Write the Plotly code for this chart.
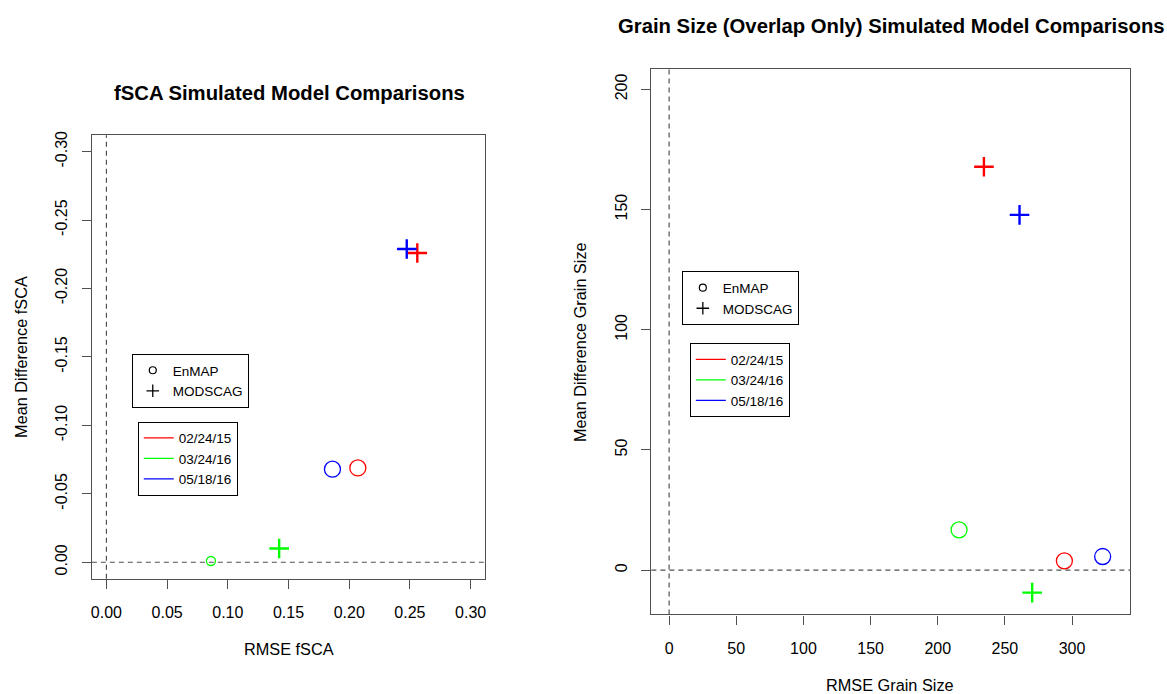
import plotly.graph_objects as go

# ---------------- data ----------------
DATES = ["02/24/15", "03/24/16", "05/18/16"]
PRODUCTS = ["EnMAP", "MODSCAG"]

FSCA_ENMAP_RMSE = [0.2071, 0.0861, 0.1862]
FSCA_ENMAP_MD = [-0.0689, -0.0009, -0.0680]
FSCA_MODSCAG_RMSE = [0.2561, 0.1423, 0.2474]
FSCA_MODSCAG_MD = [-0.2260, -0.0100, -0.2289]

GRAIN_ENMAP_RMSE = [294.3, 215.9, 322.8]
GRAIN_ENMAP_MD = [3.9, 16.8, 5.7]
GRAIN_MODSCAG_RMSE = [234.4, 270.3, 260.9]
GRAIN_MODSCAG_MD = [167.8, -9.3, 147.8]

FSCA_X_TICKS = [0.00, 0.05, 0.10, 0.15, 0.20, 0.25, 0.30]
FSCA_X_LABELS = ["0.00", "0.05", "0.10", "0.15", "0.20", "0.25", "0.30"]
FSCA_Y_TICKS = [0.00, -0.05, -0.10, -0.15, -0.20, -0.25, -0.30]
FSCA_Y_LABELS = ["0.00", "-0.05", "-0.10", "-0.15", "-0.20", "-0.25", "-0.30"]
GRAIN_X_TICKS = [0, 50, 100, 150, 200, 250, 300]
GRAIN_Y_TICKS = [0, 50, 100, 150, 200]
REF_VALUE = 0

# ---------------- style ----------------
W, H = 1167, 694
FONT = "Liberation Sans, Arial, Helvetica, sans-serif"
DATE_COLORS = ["#FF0000", "#00FF00", "#0000FF"]
BOX = "#505050"
FSCA_ENMAP_SIZES = [16, 9, 16]
GRAIN_ENMAP_SIZES = [16, 16, 16]


def px(x):
    return x / W


def py(y):
    return 1 - y / H


fig = go.Figure()


def add_panel(xa, ya, enmap_x, enmap_y, mod_x, mod_y, enmap_sizes, legs):
    for i, d in enumerate(DATES):
        fig.add_trace(go.Scatter(
            x=[enmap_x[i]], y=[enmap_y[i]], mode="markers", xaxis=xa, yaxis=ya,
            name=f"EnMAP {d}", showlegend=False,
            marker=dict(symbol="circle-open", size=enmap_sizes[i],
                        color=DATE_COLORS[i], line=dict(width=1.3, color=DATE_COLORS[i]))))
        fig.add_trace(go.Scatter(
            x=[mod_x[i]], y=[mod_y[i]], mode="markers", xaxis=xa, yaxis=ya,
            name=f"MODSCAG {d}", showlegend=False,
            marker=dict(symbol="cross-thin", size=14,
                        color=DATE_COLORS[i], line=dict(width=2.4, color=DATE_COLORS[i]))))
    # legend entries (symbol legend)
    fig.add_trace(go.Scatter(x=[None], y=[None], mode="markers", xaxis=xa, yaxis=ya,
                             name=PRODUCTS[0], legend=legs[0], legendgroup=legs[0] + "a",
                             marker=dict(symbol="circle-open", size=7, color="black",
                                         line=dict(width=1.2, color="black"))))
    fig.add_trace(go.Scatter(x=[None], y=[None], mode="markers", xaxis=xa, yaxis=ya,
                             name=PRODUCTS[1], legend=legs[0], legendgroup=legs[0] + "b",
                             marker=dict(symbol="cross-thin", size=9, color="black",
                                         line=dict(width=1.3, color="black"))))
    # legend entries (date legend)
    for i, d in enumerate(DATES):
        fig.add_trace(go.Scatter(x=[None], y=[None], mode="lines", xaxis=xa, yaxis=ya,
                                 name=d, legend=legs[1], legendgroup=legs[1] + str(i),
                                 line=dict(color=DATE_COLORS[i], width=1.3)))
    # dashed reference lines (abline h=0, v=0)
    fig.add_shape(type="line", xref=xa, yref=ya + " domain", x0=REF_VALUE, x1=REF_VALUE,
                  y0=0, y1=1, line=dict(color="#505050", width=1.2, dash="5px,4px"))
    fig.add_shape(type="line", xref=xa + " domain", yref=ya, x0=0, x1=1,
                  y0=REF_VALUE, y1=REF_VALUE, line=dict(color="#505050", width=1.2, dash="5px,4px"))


add_panel("x", "y", FSCA_ENMAP_RMSE, FSCA_ENMAP_MD, FSCA_MODSCAG_RMSE, FSCA_MODSCAG_MD,
          FSCA_ENMAP_SIZES, ["legend", "legend2"])
add_panel("x2", "y2", GRAIN_ENMAP_RMSE, GRAIN_ENMAP_MD, GRAIN_MODSCAG_RMSE, GRAIN_MODSCAG_MD,
          GRAIN_ENMAP_SIZES, ["legend3", "legend4"])

axis_common = dict(showline=True, mirror=True, linecolor=BOX, linewidth=1.2,
                   ticks="outside", ticklen=9, tickcolor=BOX, tickwidth=1.2,
                   showgrid=False, zeroline=False,
                   tickfont=dict(family=FONT, size=16, color="black"))

fig.update_layout(
    width=W, height=H,
    margin=dict(l=0, r=0, t=0, b=0),
    paper_bgcolor="white", plot_bgcolor="white",
    font=dict(family=FONT, color="black"),
    xaxis=dict(domain=[px(91), px(485)], range=[-0.012, 0.312], tickvals=FSCA_X_TICKS,
               ticktext=FSCA_X_LABELS, anchor="y", ticklabelstandoff=10, **axis_common),
    yaxis=dict(domain=[py(578), py(132)], range=[0.012, -0.312], tickvals=FSCA_Y_TICKS,
               ticktext=FSCA_Y_LABELS, anchor="x", tickangle=-90, ticklabelstandoff=8,
               **axis_common),
    xaxis2=dict(domain=[px(651.5), px(1131)], range=[-13.2, 343.2], tickvals=GRAIN_X_TICKS,
                anchor="y2", ticklabelstandoff=10, **axis_common),
    yaxis2=dict(domain=[py(614), py(65.5)], range=[-18.4, 208.4], tickvals=GRAIN_Y_TICKS,
                anchor="x2", tickangle=-90, ticklabelstandoff=8, **axis_common),
    showlegend=True,
)

leg_common = dict(xanchor="left", yanchor="top", bordercolor="black", borderwidth=1,
                  bgcolor="white", itemwidth=30, font=dict(family=FONT, size=13.5, color="black"),
                  traceorder="normal", itemclick=False, itemdoubleclick=False)
fig.update_layout(
    legend=dict(x=px(131), y=py(352), tracegroupgap=0, **leg_common),
    legend2=dict(x=px(137), y=py(420), tracegroupgap=0, **leg_common),
    legend3=dict(x=px(682), y=py(269), tracegroupgap=5, **leg_common),
    legend4=dict(x=px(690), y=py(341), tracegroupgap=6, **leg_common),
)

# titles
ann = [
    dict(text="<b>fSCA Simulated Model Comparisons</b>", x=px(289), y=py(90), size=20.3),
    dict(text="<b>Grain Size (Overlap Only) Simulated Model Comparisons</b>", x=px(892), y=py(22), size=20.3),
    dict(text="RMSE fSCA", x=px(288), y=py(649), size=16.3),
    dict(text="RMSE Grain Size", x=px(891), y=py(685), size=16.3),
]
for a in ann:
    fig.add_annotation(text=a["text"], x=a["x"], y=a["y"], xref="paper", yref="paper",
                       xanchor="center", yanchor="middle", showarrow=False,
                       font=dict(family=FONT, size=a["size"], color="black"))
for txt, x, y in [("Mean Difference fSCA", 20, 355), ("Mean Difference Grain Size", 580, 340)]:
    fig.add_annotation(text=txt, x=px(x), y=py(y), xref="paper", yref="paper",
                       xanchor="center", yanchor="middle", showarrow=False, textangle=-90,
                       font=dict(family=FONT, size=16.3, color="black"))

fig.write_html("out.html")
